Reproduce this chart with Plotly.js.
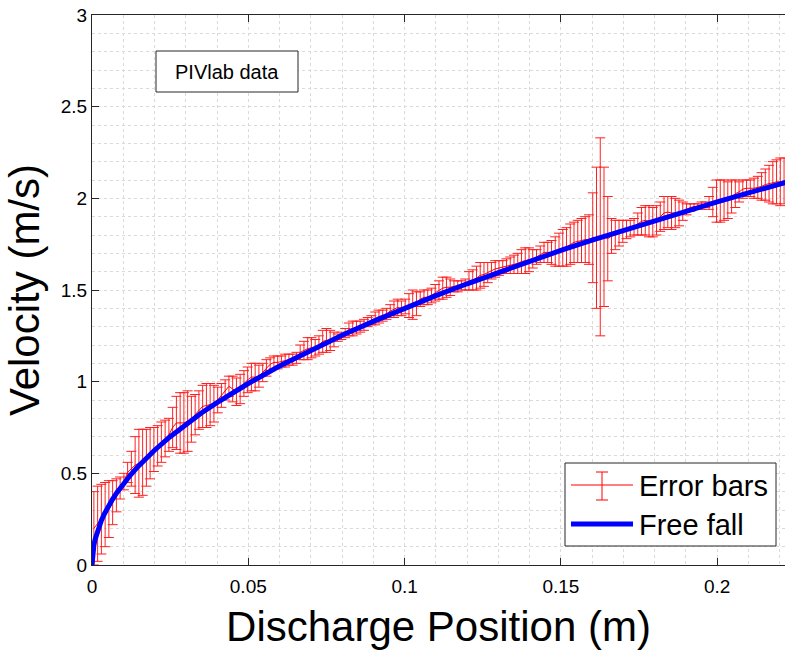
<!DOCTYPE html>
<html>
<head>
<meta charset="utf-8">
<script src="https://cdn.plot.ly/plotly-3.0.1.min.js"></script>
<style>
  html, body { margin: 0; padding: 0; background: #fff; }
  #chart { width: 785px; height: 650px; }
</style>
</head>
<body>
<div id="chart"></div>
<script>
// ---- Data ----
// Error-bar samples: first position and spacing along x (m)
const errX0 = 0.0006;
const errDx = 0.0012;
// Lower and upper ends of each error bar (m/s)
const errLow = [
  0.00,0.02,0.06,0.10,0.15,0.22,0.29,0.36,0.41,0.45,
  0.43,0.39,0.37,0.38,0.43,0.47,0.51,0.54,0.56,0.59,
  0.62,0.64,0.63,0.61,0.61,0.62,0.67,0.71,0.74,0.75,
  0.75,0.76,0.78,0.83,0.86,0.90,0.92,0.89,0.87,0.88,
  0.92,0.94,0.95,0.95,0.97,1.00,1.03,1.06,1.07,1.07,
  1.08,1.08,1.09,1.09,1.10,1.12,1.12,1.12,1.13,1.14,
  1.15,1.16,1.16,1.17,1.19,1.22,1.23,1.24,1.25,1.25,
  1.26,1.27,1.28,1.30,1.31,1.31,1.32,1.33,1.34,1.35,
  1.35,1.36,1.36,1.37,1.35,1.34,1.36,1.41,1.42,1.42,
  1.43,1.44,1.45,1.45,1.46,1.47,1.49,1.49,1.50,1.50,
  1.50,1.50,1.50,1.51,1.52,1.54,1.56,1.57,1.58,1.59,
  1.59,1.59,1.59,1.59,1.59,1.59,1.60,1.62,1.64,1.65,
  1.65,1.65,1.64,1.63,1.63,1.63,1.63,1.64,1.65,1.65,
  1.65,1.65,1.64,1.54,1.40,1.25,1.41,1.55,1.70,1.72,
  1.74,1.76,1.78,1.79,1.80,1.80,1.80,1.80,1.79,1.79,
  1.80,1.82,1.83,1.84,1.83,1.84,1.85,1.88,1.91,1.93,
  1.94,1.94,1.94,1.95,1.94,1.90,1.87,1.87,1.88,1.89,
  1.92,1.95,1.98,2.00,2.01,2.01,2.00,2.00,1.99,1.99,
  1.98,1.97,1.97,1.96,1.97
];
const errHigh = [
  0.40,0.43,0.44,0.45,0.46,0.46,0.47,0.48,0.50,0.56,
  0.62,0.70,0.74,0.74,0.74,0.75,0.75,0.76,0.78,0.79,
  0.80,0.86,0.92,0.94,0.94,0.95,0.92,0.93,0.95,0.98,
  0.99,0.99,0.98,0.97,0.99,1.01,1.03,1.03,1.02,1.04,
  1.06,1.08,1.10,1.10,1.09,1.10,1.12,1.13,1.14,1.14,
  1.14,1.15,1.15,1.15,1.16,1.20,1.22,1.24,1.24,1.23,
  1.25,1.28,1.29,1.28,1.27,1.26,1.27,1.29,1.32,1.33,
  1.33,1.33,1.34,1.35,1.36,1.38,1.39,1.39,1.40,1.42,
  1.44,1.45,1.44,1.45,1.48,1.50,1.49,1.49,1.50,1.50,
  1.51,1.53,1.55,1.57,1.57,1.56,1.55,1.55,1.55,1.56,
  1.60,1.61,1.63,1.65,1.65,1.65,1.65,1.66,1.66,1.66,
  1.67,1.68,1.69,1.70,1.72,1.73,1.73,1.72,1.72,1.74,
  1.76,1.76,1.77,1.79,1.81,1.83,1.84,1.86,1.87,1.88,
  1.89,1.90,1.91,2.03,2.17,2.33,2.17,2.01,1.89,1.88,
  1.88,1.88,1.88,1.88,1.89,1.92,1.95,1.96,1.96,1.95,
  1.96,1.98,2.01,2.01,2.01,2.00,1.99,1.98,1.97,1.97,
  1.97,1.97,1.98,1.98,2.01,2.06,2.10,2.10,2.10,2.09,
  2.10,2.10,2.09,2.10,2.10,2.10,2.11,2.12,2.14,2.16,
  2.18,2.20,2.21,2.22,2.22
];
// Free-fall curve
const fallX = [0,0.0001,0.0003,0.0006,0.001,0.0015,0.002,0.003,0.004,0.005,
  0.0065,0.008,0.01,0.0125,0.015,0.0175,0.02,0.025,0.03,0.035,0.04,0.045,
  0.05,0.06,0.07,0.08,0.09,0.10,0.11,0.12,0.13,0.14,0.15,0.16,0.17,0.18,
  0.19,0.20,0.21,0.222];
const fallV = [0,0.044,0.077,0.108,0.140,0.172,0.198,0.243,0.280,0.313,
  0.357,0.396,0.443,0.495,0.542,0.586,0.626,0.700,0.767,0.829,0.886,0.940,
  0.990,1.085,1.172,1.253,1.329,1.401,1.469,1.534,1.597,1.657,1.716,1.772,1.826,1.879,
  1.931,1.981,2.030,2.087];
// Tick labels
const xTicks = [0, 0.05, 0.1, 0.15, 0.2];
const xTickText = ['0', '0.05', '0.1', '0.15', '0.2'];
const yTicks = [0, 0.5, 1, 1.5, 2, 2.5, 3];
const yTickText = ['0', '0.5', '1', '1.5', '2', '2.5', '3'];

// ---- Build traces ----
const errMid = errLow.map((lo, i) => (lo + errHigh[i]) / 2);
const errHalf = errLow.map((lo, i) => (errHigh[i] - lo) / 2);

const FONT = 'Liberation Sans, Arial, sans-serif';
const INK = '#262626';

const traces = [
  {
    type: 'scatter', mode: 'lines',
    x0: errX0, dx: errDx, y: errMid,
    line: { color: '#ff0000', width: 1 },
    error_y: { type: 'data', array: errHalf, visible: true,
               color: '#ff2020', thickness: 1, width: 5 },
    showlegend: false, hoverinfo: 'skip'
  },
  {
    type: 'scatter', mode: 'lines',
    x: fallX, y: fallV,
    line: { color: '#0000ff', width: 5 },
    showlegend: false, hoverinfo: 'skip'
  }
];

// pixel -> paper helpers for decorations (plot area 92..785 x 15..565)
const L = 92, R = 785, T = 15, B = 565;
const px = v => (v - L) / (R - L);
const py = v => (B - v) / (B - T);

const shapes = [
  // PIVlab data box
  { type: 'rect', xref: 'paper', yref: 'paper', layer: 'above',
    x0: px(156), x1: px(298), y0: py(92), y1: py(51),
    line: { color: INK, width: 1 }, fillcolor: '#ffffff' },
  // Legend box
  { type: 'rect', xref: 'paper', yref: 'paper', layer: 'above',
    x0: px(565), x1: px(776), y0: py(546), y1: py(463),
    line: { color: INK, width: 1 }, fillcolor: '#ffffff' },
  // legend: error bar glyph
  { type: 'line', xref: 'paper', yref: 'paper', layer: 'above',
    x0: px(571), x1: px(633), y0: py(485), y1: py(485),
    line: { color: '#ff0000', width: 1 } },
  { type: 'line', xref: 'paper', yref: 'paper', layer: 'above',
    x0: px(602), x1: px(602), y0: py(472), y1: py(500),
    line: { color: '#ff0000', width: 1 } },
  { type: 'line', xref: 'paper', yref: 'paper', layer: 'above',
    x0: px(596), x1: px(608), y0: py(472), y1: py(472),
    line: { color: '#ff0000', width: 1 } },
  { type: 'line', xref: 'paper', yref: 'paper', layer: 'above',
    x0: px(596), x1: px(608), y0: py(500), y1: py(500),
    line: { color: '#ff0000', width: 1 } },
  // legend: free fall line
  { type: 'line', xref: 'paper', yref: 'paper', layer: 'above',
    x0: px(571), x1: px(633), y0: py(524), y1: py(524),
    line: { color: '#0000ff', width: 5 } }
];

const annotations = [
  { xref: 'paper', yref: 'paper', x: px(227), y: py(71.5),
    text: 'PIVlab data', showarrow: false, xanchor: 'center', yanchor: 'middle',
    font: { family: FONT, size: 20, color: '#000' } },
  { xref: 'paper', yref: 'paper', x: px(637), y: py(486),
    text: 'Error bars', showarrow: false, xanchor: 'left', yanchor: 'middle',
    font: { family: FONT, size: 29, color: '#000' } },
  { xref: 'paper', yref: 'paper', x: px(637), y: py(525),
    text: 'Free fall', showarrow: false, xanchor: 'left', yanchor: 'middle',
    font: { family: FONT, size: 29, color: '#000' } }
];

const gridCol = '#dadada';
const layout = {
  width: 785, height: 650,
  margin: { l: L, r: 785 - R, t: T, b: 650 - B, pad: 0 },
  paper_bgcolor: '#ffffff', plot_bgcolor: '#ffffff',
  font: { family: FONT, color: '#000' },
  showlegend: false,
  xaxis: {
    range: [0, 0.2217], autorange: false,
    tickvals: xTicks, ticktext: xTickText,
    ticks: 'inside', ticklen: 7, tickwidth: 1, tickcolor: INK,
    showline: true, linecolor: INK, linewidth: 1, mirror: 'ticks',
    showgrid: true, gridcolor: gridCol, griddash: 'dot', gridwidth: 1,
    minor: { dtick: 0.01, showgrid: true, gridcolor: gridCol, griddash: 'dot', gridwidth: 1 },
    zeroline: false,
    ticklabelstandoff: 4,
    tickfont: { family: FONT, size: 19, color: '#000' },
    title: { text: 'Discharge Position (m)', standoff: 16,
             font: { family: FONT, size: 42, color: '#000' } },
    automargin: false
  },
  yaxis: {
    range: [0, 3], autorange: false,
    tickvals: yTicks, ticktext: yTickText,
    ticks: 'inside', ticklen: 7, tickwidth: 1, tickcolor: INK,
    showline: true, linecolor: INK, linewidth: 1, mirror: false,
    showgrid: true, gridcolor: gridCol, griddash: 'dot', gridwidth: 1,
    minor: { dtick: 0.1, showgrid: true, gridcolor: gridCol, griddash: 'dot', gridwidth: 1 },
    zeroline: false,
    tickfont: { family: FONT, size: 19, color: '#000' },
    title: { text: 'Velocity (m/s)', standoff: 8,
             font: { family: FONT, size: 42, color: '#000' } },
    automargin: false
  },
  shapes: shapes,
  annotations: annotations
};

Plotly.newPlot('chart', traces, layout, { staticPlot: true, displayModeBar: false });
</script>
</body>
</html>
